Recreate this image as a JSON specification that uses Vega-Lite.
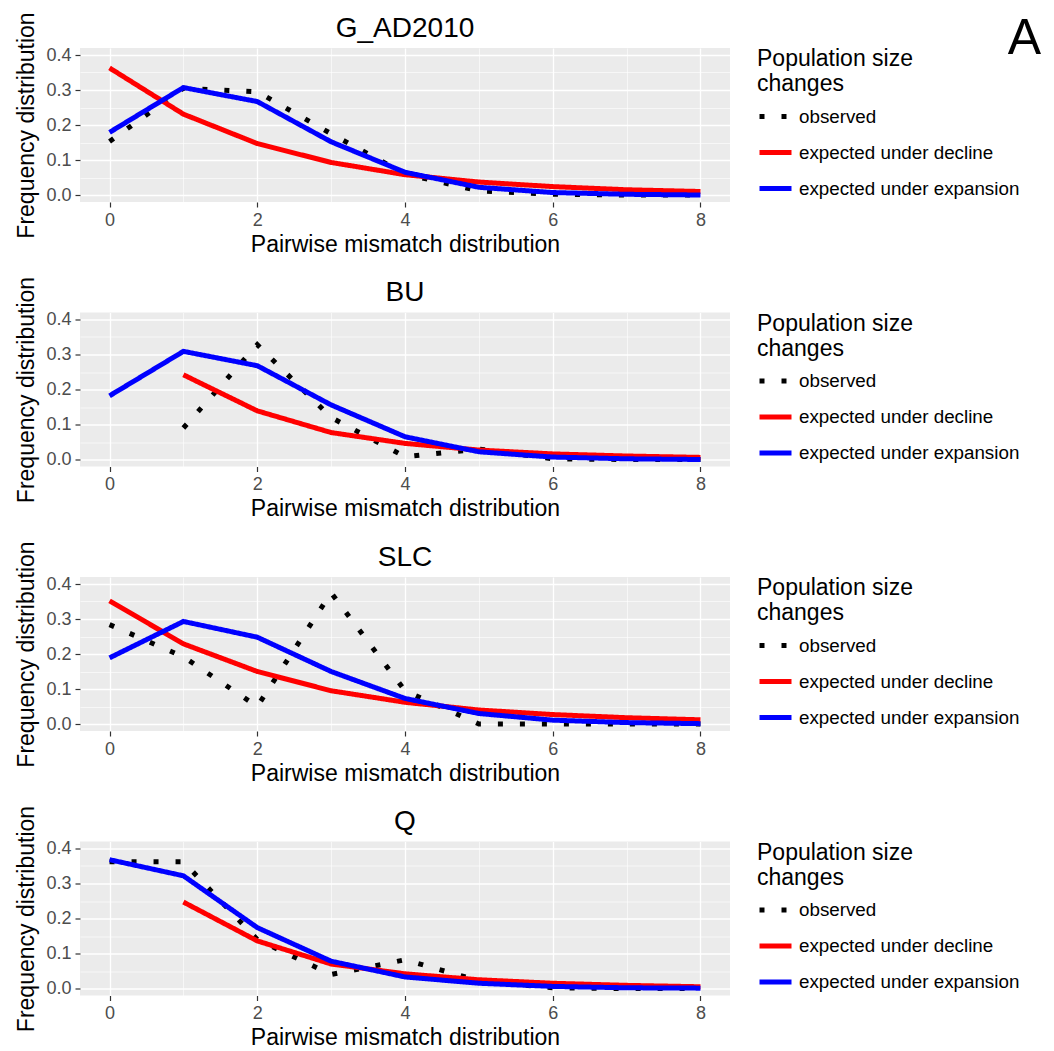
{
  "$schema": "https://vega.github.io/schema/vega-lite/v6.json",
  "padding": {"left": 15, "top": 11, "right": 5, "bottom": 0},
  "background": "#FFFFFF",
  "bounds": "flush",
  "spacing": 110.5,
  "title": {"text": "A", "orient": "top", "anchor": "end", "frame": "bounds", "align": "right", "baseline": "top", "fontSize": 50, "fontWeight": "normal", "color": "#000000", "offset": -52, "dx": 21},
  "datasets": {
    "d": [
      {"panel": "G_AD2010", "type": "observed", "x": 0, "y": 0.153},
      {"panel": "G_AD2010", "type": "observed", "x": 1, "y": 0.305},
      {"panel": "G_AD2010", "type": "observed", "x": 2, "y": 0.295},
      {"panel": "G_AD2010", "type": "observed", "x": 3, "y": 0.175},
      {"panel": "G_AD2010", "type": "observed", "x": 4, "y": 0.06},
      {"panel": "G_AD2010", "type": "observed", "x": 5, "y": 0.012},
      {"panel": "G_AD2010", "type": "observed", "x": 6, "y": 0.002},
      {"panel": "G_AD2010", "type": "observed", "x": 7, "y": 0.0},
      {"panel": "G_AD2010", "type": "observed", "x": 8, "y": 0.0},
      {"panel": "G_AD2010", "type": "expected under decline", "x": 0, "y": 0.363},
      {"panel": "G_AD2010", "type": "expected under decline", "x": 1, "y": 0.231},
      {"panel": "G_AD2010", "type": "expected under decline", "x": 2, "y": 0.147},
      {"panel": "G_AD2010", "type": "expected under decline", "x": 3, "y": 0.093},
      {"panel": "G_AD2010", "type": "expected under decline", "x": 4, "y": 0.058},
      {"panel": "G_AD2010", "type": "expected under decline", "x": 5, "y": 0.037},
      {"panel": "G_AD2010", "type": "expected under decline", "x": 6, "y": 0.024},
      {"panel": "G_AD2010", "type": "expected under decline", "x": 7, "y": 0.015},
      {"panel": "G_AD2010", "type": "expected under decline", "x": 8, "y": 0.01},
      {"panel": "G_AD2010", "type": "expected under expansion", "x": 0, "y": 0.179},
      {"panel": "G_AD2010", "type": "expected under expansion", "x": 1, "y": 0.307},
      {"panel": "G_AD2010", "type": "expected under expansion", "x": 2, "y": 0.267},
      {"panel": "G_AD2010", "type": "expected under expansion", "x": 3, "y": 0.152},
      {"panel": "G_AD2010", "type": "expected under expansion", "x": 4, "y": 0.065},
      {"panel": "G_AD2010", "type": "expected under expansion", "x": 5, "y": 0.022},
      {"panel": "G_AD2010", "type": "expected under expansion", "x": 6, "y": 0.007},
      {"panel": "G_AD2010", "type": "expected under expansion", "x": 7, "y": 0.002},
      {"panel": "G_AD2010", "type": "expected under expansion", "x": 8, "y": 0.0},

      {"panel": "BU", "type": "observed", "x": 1, "y": 0.09},
      {"panel": "BU", "type": "observed", "x": 2, "y": 0.328},
      {"panel": "BU", "type": "observed", "x": 3, "y": 0.12},
      {"panel": "BU", "type": "observed", "x": 4, "y": 0.008},
      {"panel": "BU", "type": "observed", "x": 5, "y": 0.03},
      {"panel": "BU", "type": "observed", "x": 6, "y": 0.002},
      {"panel": "BU", "type": "observed", "x": 7, "y": 0.0},
      {"panel": "BU", "type": "observed", "x": 8, "y": 0.0},
      {"panel": "BU", "type": "expected under decline", "x": 1, "y": 0.242},
      {"panel": "BU", "type": "expected under decline", "x": 2, "y": 0.139},
      {"panel": "BU", "type": "expected under decline", "x": 3, "y": 0.077},
      {"panel": "BU", "type": "expected under decline", "x": 4, "y": 0.046},
      {"panel": "BU", "type": "expected under decline", "x": 5, "y": 0.027},
      {"panel": "BU", "type": "expected under decline", "x": 6, "y": 0.016},
      {"panel": "BU", "type": "expected under decline", "x": 7, "y": 0.01},
      {"panel": "BU", "type": "expected under decline", "x": 8, "y": 0.006},
      {"panel": "BU", "type": "expected under expansion", "x": 0, "y": 0.182},
      {"panel": "BU", "type": "expected under expansion", "x": 1, "y": 0.309},
      {"panel": "BU", "type": "expected under expansion", "x": 2, "y": 0.268},
      {"panel": "BU", "type": "expected under expansion", "x": 3, "y": 0.156},
      {"panel": "BU", "type": "expected under expansion", "x": 4, "y": 0.065},
      {"panel": "BU", "type": "expected under expansion", "x": 5, "y": 0.022},
      {"panel": "BU", "type": "expected under expansion", "x": 6, "y": 0.007},
      {"panel": "BU", "type": "expected under expansion", "x": 7, "y": 0.002},
      {"panel": "BU", "type": "expected under expansion", "x": 8, "y": 0.0},

      {"panel": "SLC", "type": "observed", "x": 0, "y": 0.284},
      {"panel": "SLC", "type": "observed", "x": 1, "y": 0.192},
      {"panel": "SLC", "type": "observed", "x": 2, "y": 0.05},
      {"panel": "SLC", "type": "observed", "x": 3, "y": 0.375},
      {"panel": "SLC", "type": "observed", "x": 4, "y": 0.095},
      {"panel": "SLC", "type": "observed", "x": 5, "y": 0.0},
      {"panel": "SLC", "type": "observed", "x": 6, "y": 0.0},
      {"panel": "SLC", "type": "observed", "x": 7, "y": 0.0},
      {"panel": "SLC", "type": "observed", "x": 8, "y": 0.0},
      {"panel": "SLC", "type": "expected under decline", "x": 0, "y": 0.352},
      {"panel": "SLC", "type": "expected under decline", "x": 1, "y": 0.229},
      {"panel": "SLC", "type": "expected under decline", "x": 2, "y": 0.15},
      {"panel": "SLC", "type": "expected under decline", "x": 3, "y": 0.095},
      {"panel": "SLC", "type": "expected under decline", "x": 4, "y": 0.062},
      {"panel": "SLC", "type": "expected under decline", "x": 5, "y": 0.04},
      {"panel": "SLC", "type": "expected under decline", "x": 6, "y": 0.027},
      {"panel": "SLC", "type": "expected under decline", "x": 7, "y": 0.018},
      {"panel": "SLC", "type": "expected under decline", "x": 8, "y": 0.012},
      {"panel": "SLC", "type": "expected under expansion", "x": 0, "y": 0.189},
      {"panel": "SLC", "type": "expected under expansion", "x": 1, "y": 0.293},
      {"panel": "SLC", "type": "expected under expansion", "x": 2, "y": 0.248},
      {"panel": "SLC", "type": "expected under expansion", "x": 3, "y": 0.15},
      {"panel": "SLC", "type": "expected under expansion", "x": 4, "y": 0.073},
      {"panel": "SLC", "type": "expected under expansion", "x": 5, "y": 0.03},
      {"panel": "SLC", "type": "expected under expansion", "x": 6, "y": 0.011},
      {"panel": "SLC", "type": "expected under expansion", "x": 7, "y": 0.004},
      {"panel": "SLC", "type": "expected under expansion", "x": 8, "y": 0.001},

      {"panel": "Q", "type": "observed", "x": 0, "y": 0.362},
      {"panel": "Q", "type": "observed", "x": 1, "y": 0.362},
      {"panel": "Q", "type": "observed", "x": 2, "y": 0.14},
      {"panel": "Q", "type": "observed", "x": 3, "y": 0.04},
      {"panel": "Q", "type": "observed", "x": 4, "y": 0.082},
      {"panel": "Q", "type": "observed", "x": 5, "y": 0.022},
      {"panel": "Q", "type": "observed", "x": 6, "y": 0.002},
      {"panel": "Q", "type": "observed", "x": 7, "y": 0.0},
      {"panel": "Q", "type": "observed", "x": 8, "y": 0.0},
      {"panel": "Q", "type": "expected under decline", "x": 1, "y": 0.247},
      {"panel": "Q", "type": "expected under decline", "x": 2, "y": 0.136},
      {"panel": "Q", "type": "expected under decline", "x": 3, "y": 0.07},
      {"panel": "Q", "type": "expected under decline", "x": 4, "y": 0.042},
      {"panel": "Q", "type": "expected under decline", "x": 5, "y": 0.025},
      {"panel": "Q", "type": "expected under decline", "x": 6, "y": 0.015},
      {"panel": "Q", "type": "expected under decline", "x": 7, "y": 0.009},
      {"panel": "Q", "type": "expected under decline", "x": 8, "y": 0.005},
      {"panel": "Q", "type": "expected under expansion", "x": 0, "y": 0.368},
      {"panel": "Q", "type": "expected under expansion", "x": 1, "y": 0.322},
      {"panel": "Q", "type": "expected under expansion", "x": 2, "y": 0.174},
      {"panel": "Q", "type": "expected under expansion", "x": 3, "y": 0.078},
      {"panel": "Q", "type": "expected under expansion", "x": 4, "y": 0.033},
      {"panel": "Q", "type": "expected under expansion", "x": 5, "y": 0.015},
      {"panel": "Q", "type": "expected under expansion", "x": 6, "y": 0.006},
      {"panel": "Q", "type": "expected under expansion", "x": 7, "y": 0.002},
      {"panel": "Q", "type": "expected under expansion", "x": 8, "y": 0.001}
    ]
  },
  "resolve": {
    "scale": {"color": "independent", "strokeDash": "independent"},
    "legend": {"color": "independent", "strokeDash": "independent"}
  },
  "vconcat": [
    {
      "title": "G_AD2010",
      "width": 650, "height": 154,
      "data": {"name": "d"},
      "transform": [{"filter": "datum.panel === 'G_AD2010'"}],
      "encoding": {
        "x": {"field": "x", "type": "quantitative", "scale": {"domain": [-0.4, 8.4], "nice": false, "zero": false},
              "axis": {"title": "Pairwise mismatch distribution", "values": [0, 1, 2, 3, 4, 5, 6, 7, 8], "labelExpr": "datum.value % 2 === 0 ? datum.label : ''",
                       "tickOpacity": {"condition": {"test": "datum.value % 2 === 0", "value": 1}, "value": 0},
                       "gridWidth": {"condition": {"test": "datum.value % 2 === 0", "value": 1.3}, "value": 0.6}}},
        "y": {"field": "y", "type": "quantitative", "scale": {"domain": [-0.02, 0.42], "nice": false, "zero": false},
              "axis": {"title": "Frequency distribution", "titlePadding": 7, "format": ".1f", "values": [0, 0.05, 0.1, 0.15, 0.2, 0.25, 0.3, 0.35, 0.4], "labelExpr": "round(datum.value * 20) % 2 === 0 ? datum.label : ''",
                       "tickOpacity": {"condition": {"test": "round(datum.value * 20) % 2 === 0", "value": 1}, "value": 0},
                       "gridWidth": {"condition": {"test": "round(datum.value * 20) % 2 === 0", "value": 1.3}, "value": 0.6}}},
        "color": {"field": "type", "type": "nominal", "scale": {"domain": ["observed", "expected under decline", "expected under expansion"], "range": ["#000000", "#FF0000", "#0000FF"]}, "legend": {"title": ["Population size", "changes"]}},
        "strokeDash": {"field": "type", "type": "nominal", "scale": {"domain": ["observed", "expected under decline", "expected under expansion"], "range": [[5, 17], [1, 0], [1, 0]]}, "legend": {"title": ["Population size", "changes"]}}
      },
      "layer": [
        {"transform": [{"filter": "datum.type === 'observed'"}], "mark": {"type": "line", "strokeWidth": 5, "strokeCap": "butt"}},
        {"transform": [{"filter": "datum.type === 'expected under decline'"}], "mark": {"type": "line", "strokeWidth": 5}},
        {"transform": [{"filter": "datum.type === 'expected under expansion'"}], "mark": {"type": "line", "strokeWidth": 5}}
      ]
    },
    {
      "title": "BU",
      "width": 650, "height": 154,
      "data": {"name": "d"},
      "transform": [{"filter": "datum.panel === 'BU'"}],
      "encoding": {
        "x": {"field": "x", "type": "quantitative", "scale": {"domain": [-0.4, 8.4], "nice": false, "zero": false},
              "axis": {"title": "Pairwise mismatch distribution", "values": [0, 1, 2, 3, 4, 5, 6, 7, 8], "labelExpr": "datum.value % 2 === 0 ? datum.label : ''",
                       "tickOpacity": {"condition": {"test": "datum.value % 2 === 0", "value": 1}, "value": 0},
                       "gridWidth": {"condition": {"test": "datum.value % 2 === 0", "value": 1.3}, "value": 0.6}}},
        "y": {"field": "y", "type": "quantitative", "scale": {"domain": [-0.02, 0.42], "nice": false, "zero": false},
              "axis": {"title": "Frequency distribution", "titlePadding": 7, "format": ".1f", "values": [0, 0.05, 0.1, 0.15, 0.2, 0.25, 0.3, 0.35, 0.4], "labelExpr": "round(datum.value * 20) % 2 === 0 ? datum.label : ''",
                       "tickOpacity": {"condition": {"test": "round(datum.value * 20) % 2 === 0", "value": 1}, "value": 0},
                       "gridWidth": {"condition": {"test": "round(datum.value * 20) % 2 === 0", "value": 1.3}, "value": 0.6}}},
        "color": {"field": "type", "type": "nominal", "scale": {"domain": ["observed", "expected under decline", "expected under expansion"], "range": ["#000000", "#FF0000", "#0000FF"]}, "legend": {"title": ["Population size", "changes"]}},
        "strokeDash": {"field": "type", "type": "nominal", "scale": {"domain": ["observed", "expected under decline", "expected under expansion"], "range": [[5, 17], [1, 0], [1, 0]]}, "legend": {"title": ["Population size", "changes"]}}
      },
      "layer": [
        {"transform": [{"filter": "datum.type === 'observed'"}], "mark": {"type": "line", "strokeWidth": 5, "strokeCap": "butt"}},
        {"transform": [{"filter": "datum.type === 'expected under decline'"}], "mark": {"type": "line", "strokeWidth": 5}},
        {"transform": [{"filter": "datum.type === 'expected under expansion'"}], "mark": {"type": "line", "strokeWidth": 5}}
      ]
    },
    {
      "title": "SLC",
      "width": 650, "height": 154,
      "data": {"name": "d"},
      "transform": [{"filter": "datum.panel === 'SLC'"}],
      "encoding": {
        "x": {"field": "x", "type": "quantitative", "scale": {"domain": [-0.4, 8.4], "nice": false, "zero": false},
              "axis": {"title": "Pairwise mismatch distribution", "values": [0, 1, 2, 3, 4, 5, 6, 7, 8], "labelExpr": "datum.value % 2 === 0 ? datum.label : ''",
                       "tickOpacity": {"condition": {"test": "datum.value % 2 === 0", "value": 1}, "value": 0},
                       "gridWidth": {"condition": {"test": "datum.value % 2 === 0", "value": 1.3}, "value": 0.6}}},
        "y": {"field": "y", "type": "quantitative", "scale": {"domain": [-0.02, 0.42], "nice": false, "zero": false},
              "axis": {"title": "Frequency distribution", "titlePadding": 7, "format": ".1f", "values": [0, 0.05, 0.1, 0.15, 0.2, 0.25, 0.3, 0.35, 0.4], "labelExpr": "round(datum.value * 20) % 2 === 0 ? datum.label : ''",
                       "tickOpacity": {"condition": {"test": "round(datum.value * 20) % 2 === 0", "value": 1}, "value": 0},
                       "gridWidth": {"condition": {"test": "round(datum.value * 20) % 2 === 0", "value": 1.3}, "value": 0.6}}},
        "color": {"field": "type", "type": "nominal", "scale": {"domain": ["observed", "expected under decline", "expected under expansion"], "range": ["#000000", "#FF0000", "#0000FF"]}, "legend": {"title": ["Population size", "changes"]}},
        "strokeDash": {"field": "type", "type": "nominal", "scale": {"domain": ["observed", "expected under decline", "expected under expansion"], "range": [[5, 17], [1, 0], [1, 0]]}, "legend": {"title": ["Population size", "changes"]}}
      },
      "layer": [
        {"transform": [{"filter": "datum.type === 'observed'"}], "mark": {"type": "line", "strokeWidth": 5, "strokeCap": "butt"}},
        {"transform": [{"filter": "datum.type === 'expected under decline'"}], "mark": {"type": "line", "strokeWidth": 5}},
        {"transform": [{"filter": "datum.type === 'expected under expansion'"}], "mark": {"type": "line", "strokeWidth": 5}}
      ]
    },
    {
      "title": "Q",
      "width": 650, "height": 154,
      "data": {"name": "d"},
      "transform": [{"filter": "datum.panel === 'Q'"}],
      "encoding": {
        "x": {"field": "x", "type": "quantitative", "scale": {"domain": [-0.4, 8.4], "nice": false, "zero": false},
              "axis": {"title": "Pairwise mismatch distribution", "values": [0, 1, 2, 3, 4, 5, 6, 7, 8], "labelExpr": "datum.value % 2 === 0 ? datum.label : ''",
                       "tickOpacity": {"condition": {"test": "datum.value % 2 === 0", "value": 1}, "value": 0},
                       "gridWidth": {"condition": {"test": "datum.value % 2 === 0", "value": 1.3}, "value": 0.6}}},
        "y": {"field": "y", "type": "quantitative", "scale": {"domain": [-0.02, 0.42], "nice": false, "zero": false},
              "axis": {"title": "Frequency distribution", "titlePadding": 7, "format": ".1f", "values": [0, 0.05, 0.1, 0.15, 0.2, 0.25, 0.3, 0.35, 0.4], "labelExpr": "round(datum.value * 20) % 2 === 0 ? datum.label : ''",
                       "tickOpacity": {"condition": {"test": "round(datum.value * 20) % 2 === 0", "value": 1}, "value": 0},
                       "gridWidth": {"condition": {"test": "round(datum.value * 20) % 2 === 0", "value": 1.3}, "value": 0.6}}},
        "color": {"field": "type", "type": "nominal", "scale": {"domain": ["observed", "expected under decline", "expected under expansion"], "range": ["#000000", "#FF0000", "#0000FF"]}, "legend": {"title": ["Population size", "changes"]}},
        "strokeDash": {"field": "type", "type": "nominal", "scale": {"domain": ["observed", "expected under decline", "expected under expansion"], "range": [[5, 17], [1, 0], [1, 0]]}, "legend": {"title": ["Population size", "changes"]}}
      },
      "layer": [
        {"transform": [{"filter": "datum.type === 'observed'"}], "mark": {"type": "line", "strokeWidth": 5, "strokeCap": "butt"}},
        {"transform": [{"filter": "datum.type === 'expected under decline'"}], "mark": {"type": "line", "strokeWidth": 5}},
        {"transform": [{"filter": "datum.type === 'expected under expansion'"}], "mark": {"type": "line", "strokeWidth": 5}}
      ]
    }
  ],
  "config": {
    "font": "Liberation Sans",
    "view": {"fill": "#EBEBEB", "stroke": null},
    "axis": {"domain": false, "gridColor": "#FFFFFF", "gridOpacity": 1, "tickColor": "#333333", "tickSize": 5, "tickWidth": 1.2, "labelColor": "#4D4D4D", "labelFontSize": 18, "labelFont": "Liberation Sans", "titleFont": "Liberation Sans", "titleFontSize": 23, "titleFontWeight": "normal", "titleColor": "#000000", "labelPadding": 4, "titlePadding": 4},
    "title": {"fontSize": 28, "fontWeight": "normal", "anchor": "middle", "color": "#000000", "frame": "group", "baseline": "alphabetic", "offset": -31, "font": "Liberation Sans"},
    "legend": {"titleFontSize": 23, "titleFontWeight": "normal", "titleColor": "#000000", "titleLineHeight": 25, "titlePadding": 2, "labelFontSize": 18.8, "labelColor": "#000000", "symbolType": "stroke", "symbolSize": 1024, "symbolStrokeWidth": 5, "rowPadding": 7, "labelOffset": 5, "offset": 27, "titleLimit": 300, "labelLimit": 300}
  }
}
